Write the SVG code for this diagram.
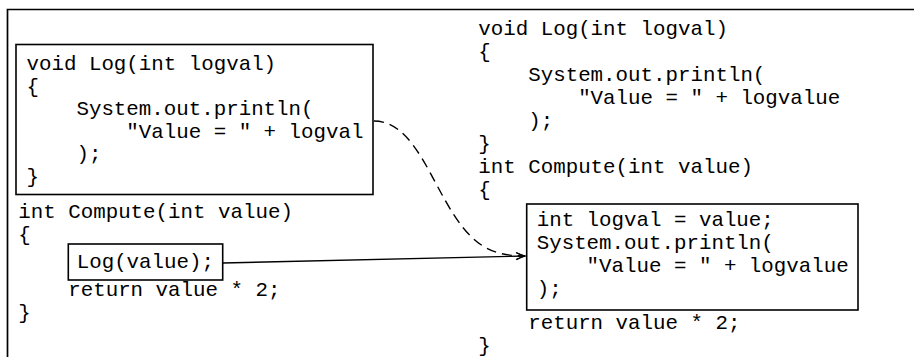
<svg xmlns="http://www.w3.org/2000/svg" width="914" height="357" viewBox="0 0 914 357">
<style>
text{font-family:"Liberation Mono","DejaVu Sans Mono",monospace;font-size:20.8px;fill:#000;white-space:pre}
.box{fill:none;stroke:#000;stroke-width:1.6}
.frame{fill:none;stroke:#000;stroke-width:1.7}
.solid{fill:none;stroke:#000;stroke-width:1.4}
.dash{fill:none;stroke:#000;stroke-width:1.4;stroke-dasharray:10 6}
</style>
<defs>
<marker id="arr" viewBox="-10 -5 12 10" refX="0" refY="0" markerWidth="12" markerHeight="10" markerUnits="userSpaceOnUse" orient="auto">
<path d="M-9,-3.5 Q-3,-0.6 0,0 Q-3,0.6 -9,3.5" fill="none" stroke="#000" stroke-width="1.2"/>
</marker>
</defs>
<path class="frame" d="M7.5,357 V9.5 H914"/>
<g id="left-log">
<rect class="box" x="16" y="44.5" width="357" height="150"/>
<text x="26.5" y="70">void Log(int logval)</text>
<text x="26.5" y="92.5">{</text>
<text x="26.5" y="115">    System.out.println(</text>
<text x="26.5" y="137.5">        "Value = " + logval</text>
<text x="26.5" y="160">    );</text>
<text x="26.5" y="182.5">}</text>
</g>
<g id="left-compute">
<text x="18.3" y="218">int Compute(int value)</text>
<text x="18.3" y="241">{</text>
<text x="18.3" y="296">    return value * 2;</text>
<text x="18.3" y="319">}</text>
</g>
<g id="left-call">
<rect class="box" x="68.3" y="244" width="154.4" height="36"/>
<text x="76.7" y="268">Log(value);</text>
</g>
<g id="right-log">
<text x="478.3" y="35">void Log(int logval)</text>
<text x="478.3" y="58">{</text>
<text x="478.3" y="81">    System.out.println(</text>
<text x="478.3" y="104">        "Value = " + logvalue</text>
<text x="478.3" y="127">    );</text>
<text x="478.3" y="150">}</text>
<text x="478.3" y="173">int Compute(int value)</text>
<text x="478.3" y="196">{</text>
</g>
<g id="right-compute">
<text x="478.3" y="329">    return value * 2;</text>
<text x="478.3" y="352">}</text>
</g>
<g id="right-inlined">
<rect class="box" x="526.7" y="204" width="331.3" height="106"/>
<text x="536.7" y="226">int logval = value;</text>
<text x="536.7" y="249">System.out.println(</text>
<text x="536.7" y="272">    "Value = " + logvalue</text>
<text x="536.7" y="295">);</text>
</g>
<g id="connectors">
<path class="dash" d="M374,121 C408,121 425,165 445,200 C470,245 490,256 525,256" marker-end="url(#arr)"/>
<path class="solid" d="M222.7,263 L525.5,256" marker-end="url(#arr)"/>
</g>
</svg>
